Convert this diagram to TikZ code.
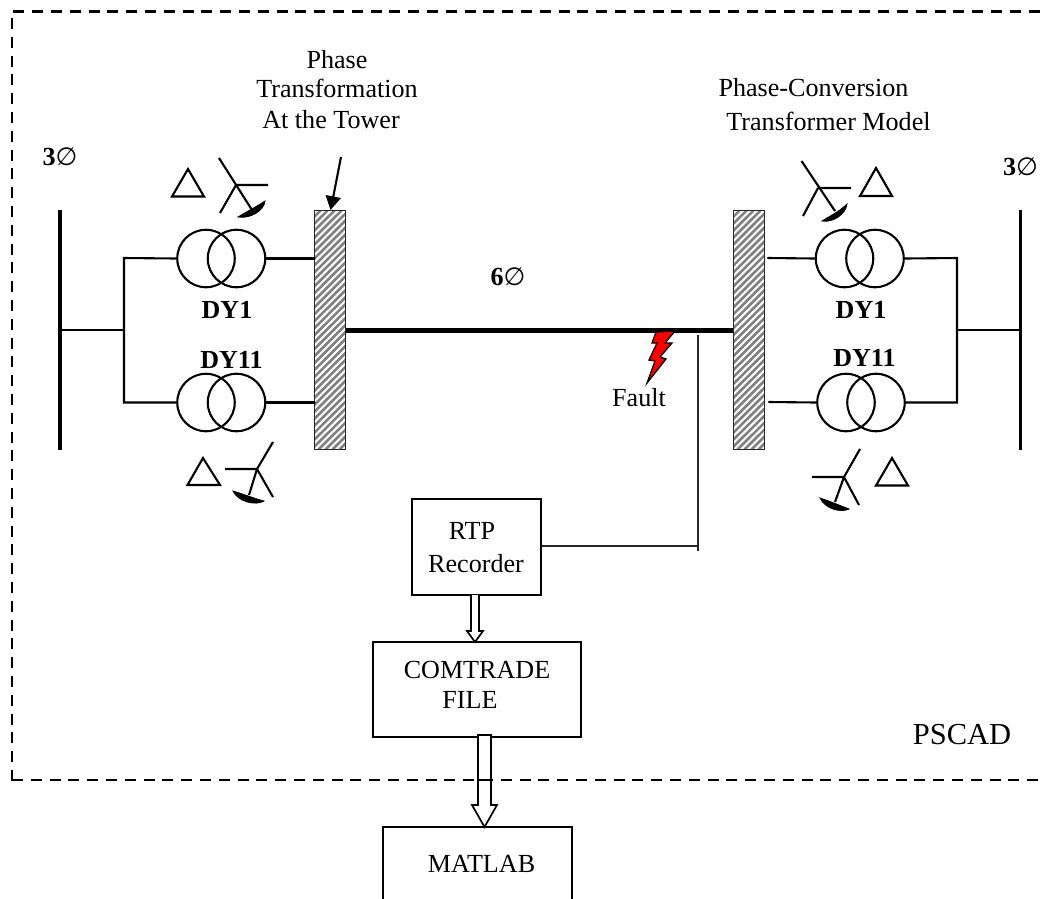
\documentclass[tikz,border=0pt]{standalone}
\usepackage{fontspec}
\setmainfont{Liberation Serif}
\newfontfamily\symfont{DejaVu Sans}
\tikzset{
  x=1pt,y=-1pt,
  wire/.style={line width=2.1pt,line cap=round},
  bus/.style={line width=3.6pt},
  coil/.style={circle,draw,line width=2.1pt,minimum size=57.5pt,inner sep=0pt},
  tower/.style={minimum width=30.5pt,minimum height=238.5pt,inner sep=0pt},
  block/.style={draw,line width=2.2pt},
  txt/.style={font=\fontsize{26.1}{26.1}\selectfont,inner sep=0pt,anchor=center},
  btxt/.style={font=\fontsize{26}{26}\selectfont\bfseries,inner sep=0pt,anchor=center},
  hollow/.style={draw,line width=1.7pt,fill=white,line join=miter},
  blob/.style={fill=black,draw=black,line width=.8pt},
  tri/.style={draw,line width=2.1pt,line join=miter},
  sym/.style={line width=2.1pt},
  sig/.style={line width=1.5pt,draw=black!85},
  frame/.style={line width=2.1pt,dash pattern=on 11pt off 7.8pt},
}
\newcommand{\phasemark}[1]{\textbf{#1}{\symfont\fontsize{25}{25}\selectfont ∅}}
\newcommand{\hatchtower}[1]{%
  \begin{scope}
    \clip (#1.south west) rectangle (#1.north east);
    \foreach \o in {-8,-1,...,300}{
      \draw[line width=2.6pt,black!50] ([xshift=-240pt+\o*1pt]#1.south west) -- ([xshift=\o*1pt]#1.north west);
    }
  \end{scope}
  \draw[line width=1.6pt,black!85] (#1.south west) rectangle (#1.north east);}
\begin{document}
\begin{tikzpicture}
\useasboundingbox (0,0) rectangle (1044,898);
\clip (0,0) rectangle (1044,898);
% PSCAD frame
\draw[frame] (12,781) -- (12,11.5) -- (1060,11.5);
\draw[frame] (12,780) -- (1060,780);

% buses
\coordinate (BLt) at (60,210); \coordinate (BLb) at (60,450); \coordinate (BLm) at (60,330);
\coordinate (BRt) at (1020.5,210); \coordinate (BRb) at (1020.5,450); \coordinate (BRm) at (1020.5,330);
\draw[bus] (BLt) -- (BLb);
\draw[bus] (BRt) -- (BRb);

% main line
\node (TL) [tower] at (330,330) {};
\node (TR) [tower] at (749,330) {};
\draw[line width=5pt] (TL.east) -- (TR.west);

% towers
\hatchtower{TL}
\hatchtower{TR}

% transformers
\node (L1a) [coil] at (206,258.5) {}; \node (L1b) [coil] at (236.5,258.5) {};
\node (L2a) [coil] at (206,402.5) {}; \node (L2b) [coil] at (236.5,402.5) {};
\node (R1a) [coil] at (844.5,258.5) {}; \node (R1b) [coil] at (875,258.5) {};
\node (R2a) [coil] at (846,402.5) {}; \node (R2b) [coil] at (876,402.5) {};

% left wiring
\coordinate (JL) at (124,330); \coordinate (JLt) at (124,258); \coordinate (JLb) at (124,402.5);
\draw[wire] (BLm) -- (JL);
\draw[wire] (L1a.west) -- (JLt) -- (JLb) -- (L2a.west);
\draw[wire] (L1b.east) -- (TL.west |- L1b.east);
\draw[wire] (L2b.east) -- (TL.west |- L2b.east);
% right wiring
\coordinate (JR) at (957,330); \coordinate (JRt) at (957,258); \coordinate (JRb) at (957,402.5);
\coordinate (SR1) at (768,258); \coordinate (SR2) at (769,402);
\draw[wire] (BRm) -- (JR);
\draw[wire] (R1b.east) -- (JRt) -- (JRb) -- (R2b.east);
\draw[wire] (SR1) -- (R1a.west);
\draw[wire] (SR2) -- (R2a.west);

% wye + delta symbols
\draw[tri] (188,169) -- (172,196.5) -- (204,196.5) -- cycle;
\draw[sym] (219,158) -- (252,210) (236,185) -- (268,185) (236,185) -- (220,213);
\fill[blob] (238,217) .. controls (246,212) and (256,207) .. (265,201) .. controls (264,211) and (250,219) .. (238,217) -- cycle;

\draw[tri] (876,168) -- (860,196) -- (892,196) -- cycle;
\draw[sym] (801.5,161) -- (835,211) (818,188) -- (851,188) (818,188) -- (803,216);
\fill[blob] (822,221) .. controls (830,216) and (840,211) .. (847,204) .. controls (846,214) and (833,223) .. (822,221) -- cycle;

\draw[tri] (203,458) -- (187.5,485) -- (220,485) -- cycle;
\draw[sym] (225,469) -- (257,469) (273,442) -- (257,469) -- (249,495) (257,469) -- (273,497);
\fill[blob] (233,491) .. controls (243,494) and (253,498) .. (264,501) .. controls (256,506) and (238,502) .. (233,491) -- cycle;

\draw[tri] (892,458) -- (876,485.5) -- (908,485.5) -- cycle;
\draw[sym] (812,477) -- (844,477) (860,449) -- (844,477) -- (835,502) (844,477) -- (859,505);
\fill[blob] (820,498) .. controls (829,501) and (839,505) .. (849,509) .. controls (841,513) and (825,509) .. (820,498) -- cycle;

% pointer to tower
\coordinate (PA) at (341,157);
\draw[line width=2.1pt] (PA) -- (333,198);
\fill (330.5,210) -- (325.5,195) -- (341,198) -- cycle;

% lightning
\draw[fill=red,line width=1.3pt,line join=miter] (656,332) -- (652,343) -- (657,343) -- (649,360) -- (655,361) -- (647,383) -- (666,359) -- (660,357) -- (672,343) -- (665,343) -- (675,331) -- cycle;

% blocks
\node (RTP) [block,minimum width=129pt,minimum height=96pt,inner sep=0pt] at (476.5,547) {};
\node (COM) [block,minimum width=208pt,minimum height=95pt,inner sep=0pt] at (477,689.5) {};
\draw[block] (383,920) -- (383,827) coordinate (MT) -- (572,827) -- (572,920);

% measurement tap
\coordinate (TAPt) at (698,335); \coordinate (TAPb) at (698,551); \coordinate (TAPj) at (698,546);
\draw[sig] (TAPt) -- (TAPb);
\draw[sig] (RTP.east |- TAPj) -- (TAPj);

% hollow arrows
\draw[hollow] (471,595) -- (471,631) -- (467,631) -- (475,642) -- (483,631) -- (479,631) -- (479,595);
\draw[hollow] (478,735) -- (478,805) -- (472,805) -- (484.5,827) -- (497,805) -- (491,805) -- (491,735) -- cycle;
\draw[line width=2pt] (478,780) -- (491,780);

% labels
\node (t1) [txt] at (337,60) {Phase};
\node (t2) [txt] at (337,88) {Transformation};
\node (t3) [txt] at (331,120) {At the Tower};
\node (t4) [txt] at (813.5,88) {Phase-Conversion};
\node (t5) [txt] at (828.5,121) {Transformer Model};
\node (p1) [txt] at (60,157) {\phasemark{3}};
\node (p2) [txt] at (1020.5,167) {\phasemark{3}};
\node (p3) [txt] at (508,277) {\phasemark{6}};
\node (d1) [btxt] at (227,310) {DY1};
\node (d2) [btxt] at (231.5,360) {DY11};
\node (d3) [btxt] at (861,310) {DY1};
\node (d4) [btxt] at (864.5,358) {DY11};
\node (f) [txt] at (639,398) {Fault};
\node (r1) [txt] at (472,531) {RTP};
\node (r2) [txt] at (476,564) {Recorder};
\node (c1) [txt] at (477,670) {COMTRADE};
\node (c2) [txt] at (470,700) {FILE};
\node (m) [txt] at (481.5,864) {MATLAB};
\node (ps) [anchor=center,inner sep=0pt,font=\fontsize{30.5}{30.5}\selectfont] at (962,735) {PSCAD};
\end{tikzpicture}
\end{document}
